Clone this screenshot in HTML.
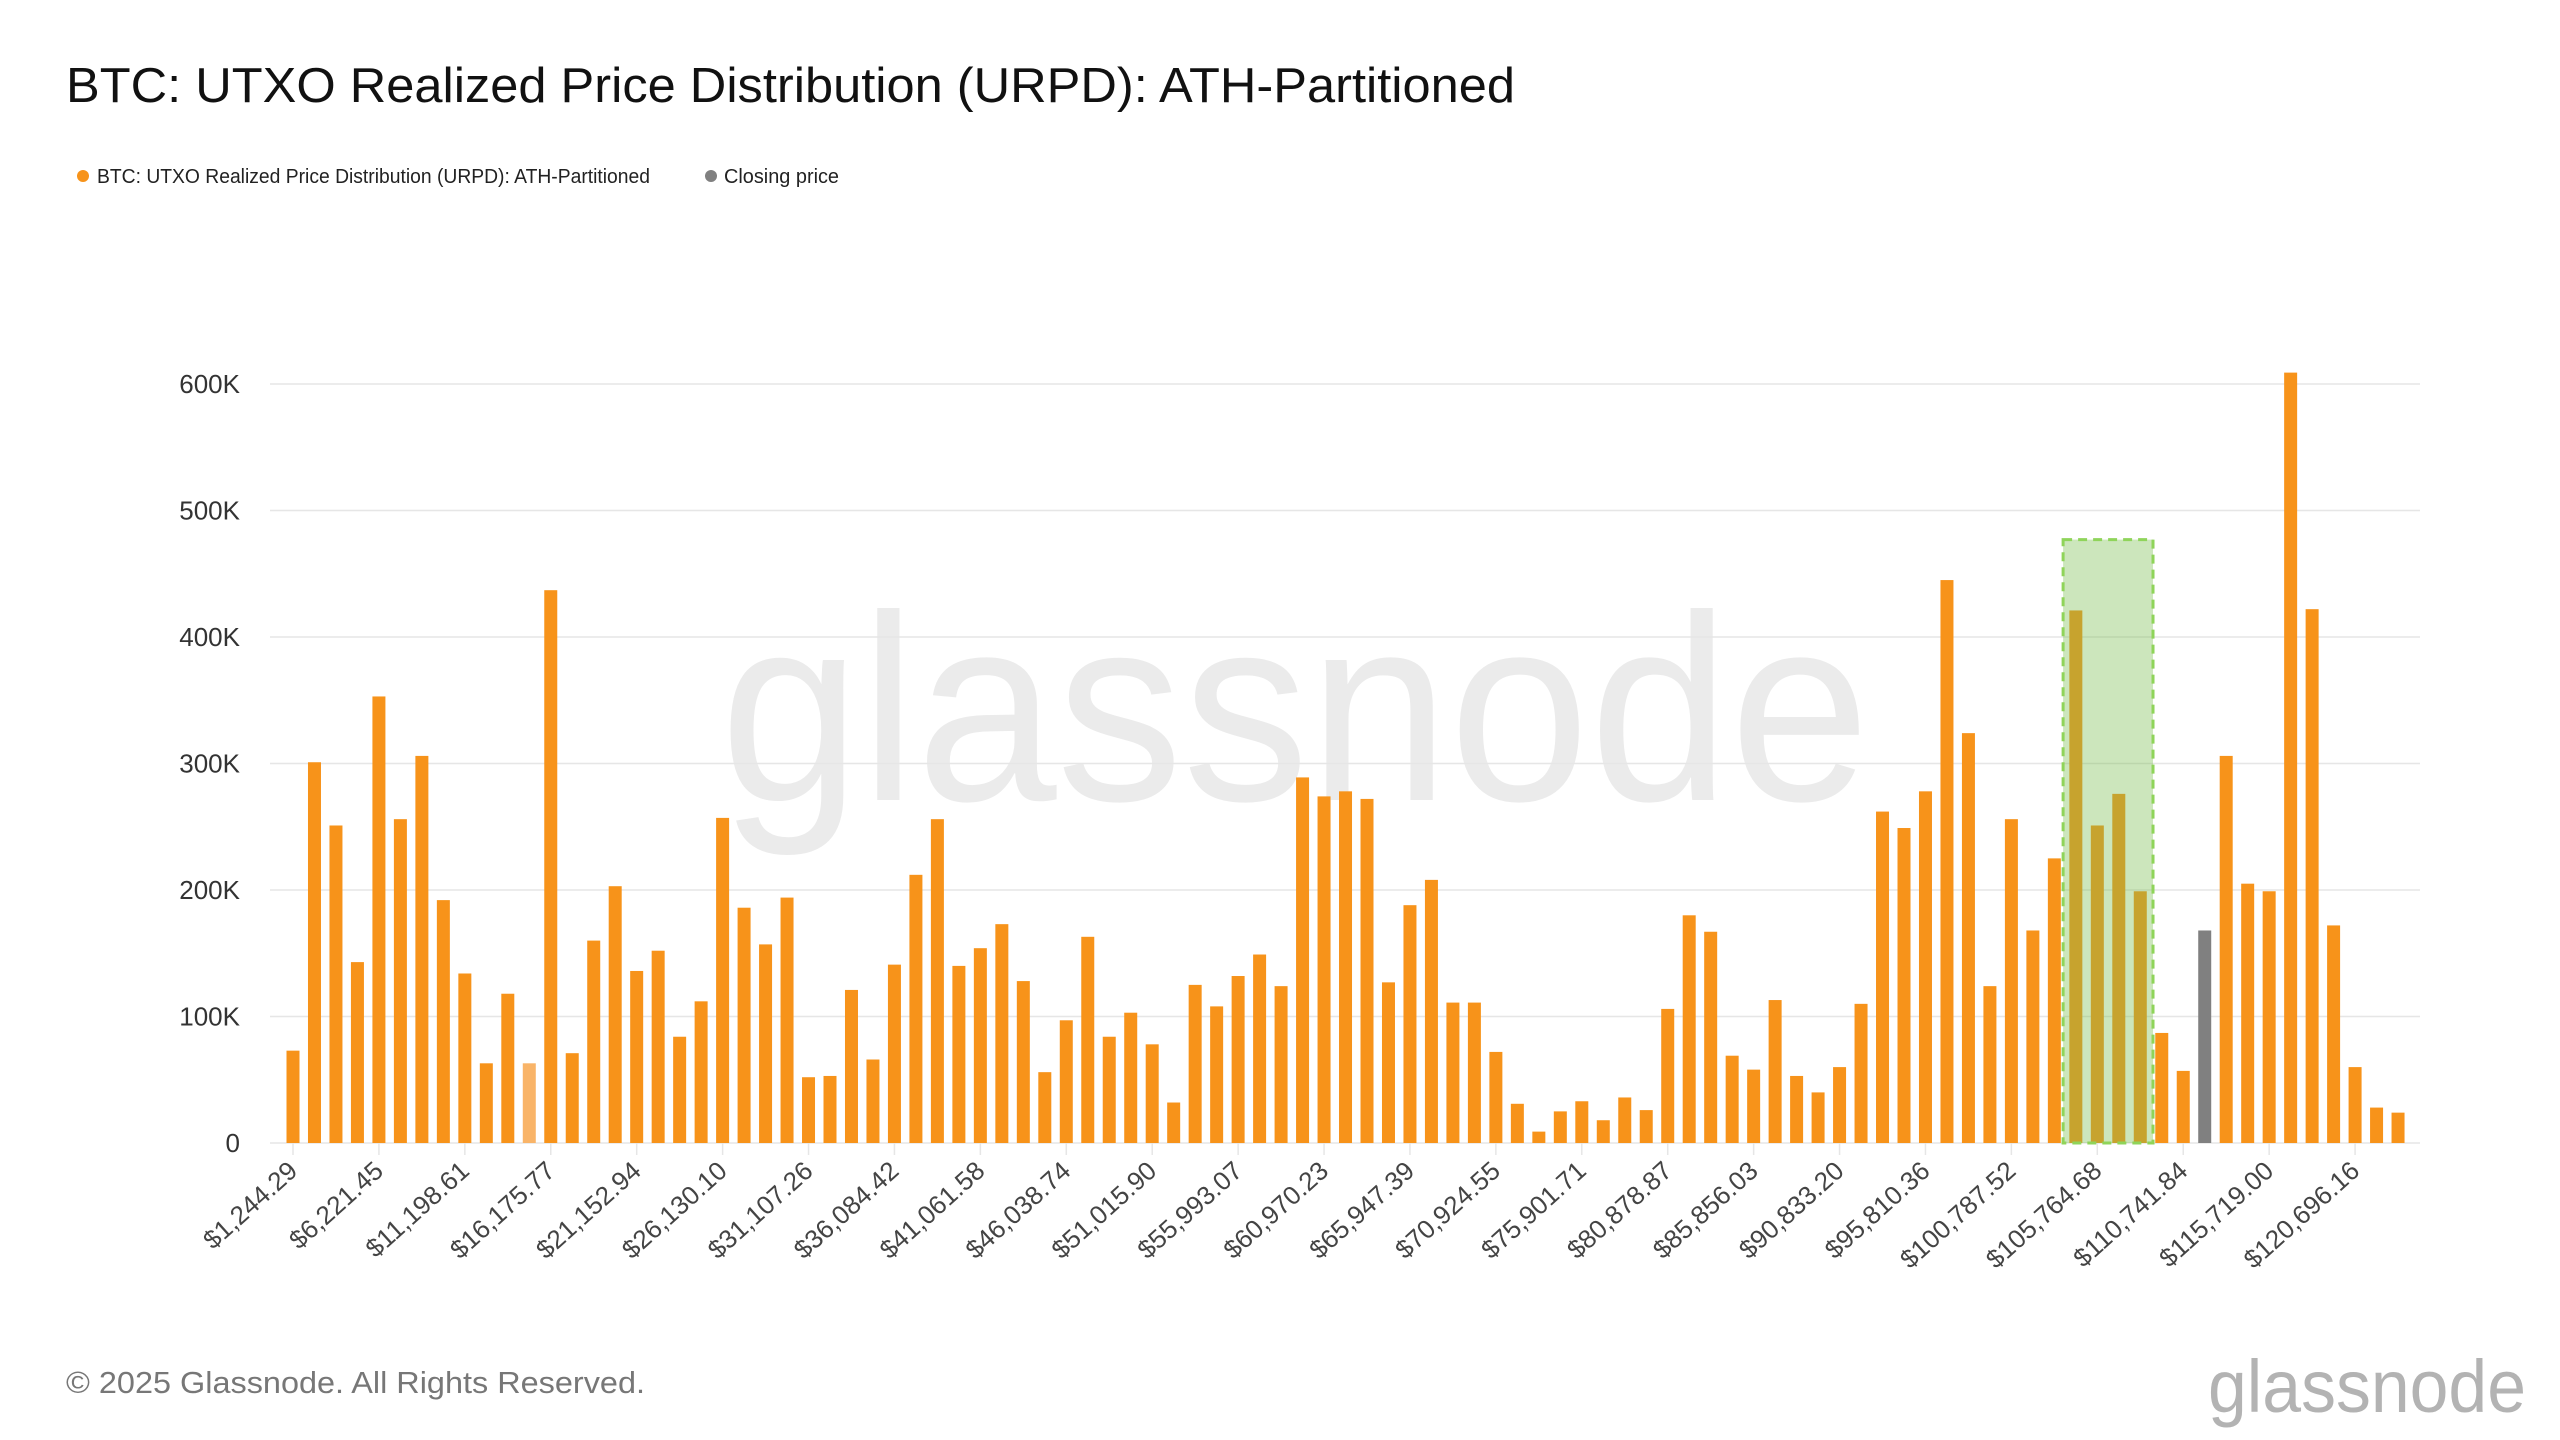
<!DOCTYPE html>
<html><head><meta charset="utf-8"><title>BTC URPD</title>
<style>
html,body{margin:0;padding:0;background:#fff;}
svg{display:block;font-family:"Liberation Sans",Arial,sans-serif;}
</style></head>
<body>
<svg id="chart" width="2560" height="1440" viewBox="0 0 2560 1440" xmlns="http://www.w3.org/2000/svg">
  <rect x="0" y="0" width="2560" height="1440" fill="#ffffff"/>
  <text x="66" y="102" font-size="49" fill="#111" textLength="1449" lengthAdjust="spacingAndGlyphs">BTC: UTXO Realized Price Distribution (URPD): ATH-Partitioned</text>
  <g>
    <g>
      <circle cx="83" cy="176" r="6" fill="#f7931a"/>
      <text x="97" y="183" font-size="20" fill="#222" textLength="553" lengthAdjust="spacingAndGlyphs">BTC: UTXO Realized Price Distribution (URPD): ATH-Partitioned</text>
    </g>
    <g>
      <circle cx="711" cy="176" r="6" fill="#808080"/>
      <text x="724" y="183" font-size="20" fill="#222" textLength="115" lengthAdjust="spacingAndGlyphs">Closing price</text>
    </g>
  </g>
  <text x="1295" y="800" font-size="265" fill="#ebebeb" text-anchor="middle" textLength="1150" lengthAdjust="spacingAndGlyphs">glassnode</text>
  <g id="grid"></g>
  <g id="yaxis"></g>
  <g id="bars"></g>
  <g id="xaxis"></g>
  <text x="66" y="1393" font-size="31" fill="#777" textLength="579" lengthAdjust="spacingAndGlyphs">© 2025 Glassnode. All Rights Reserved.</text>
  <text x="2208" y="1412" font-size="74" fill="#b3b3b3" textLength="318" lengthAdjust="spacingAndGlyphs">glassnode</text>
</svg>
<script>
const values = [73,301,251,143,353,256,306,192,134,63,118,63,437,71,160,203,136,152,84,112,257,186,157,194,52,53,121,66,141,212,256,140,154,173,128,56,97,163,84,103,78,32,125,108,132,149,124,289,274,278,272,127,188,208,111,111,72,31,9,25,33,18,36,26,106,180,167,69,58,113,53,40,60,110,262,249,278,445,324,124,256,168,225,421,251,276,199,87,57,168,306,205,199,609,422,172,60,28,24];
const tickLabels = ["$1,244.29","$6,221.45","$11,198.61","$16,175.77","$21,152.94","$26,130.10","$31,107.26","$36,084.42","$41,061.58","$46,038.74","$51,015.90","$55,993.07","$60,970.23","$65,947.39","$70,924.55","$75,901.71","$80,878.87","$85,856.03","$90,833.20","$95,810.36","$100,787.52","$105,764.68","$110,741.84","$115,719.00","$120,696.16"];
const yTicks = [0,100,200,300,400,500,600];
const yTickLabels = ["0","100K","200K","300K","400K","500K","600K"];
const closingIndex = [89];
const fadedIndex = [11];
const highlightRange = [83,86];
const highlightTop = [477];

const NS = "http://www.w3.org/2000/svg";
const X0 = 293, STEP = 21.48, BW = 13, Y0 = 1143, YPX = 759/600;
function xc(i){ return X0 + i*STEP; }
function y(v){ return Y0 - v*YPX; }
function mk(tag, attrs, parent){ const e=document.createElementNS(NS,tag); for(const k in attrs) e.setAttribute(k,attrs[k]); parent.appendChild(e); return e; }

const grid=document.getElementById('grid'), ya=document.getElementById('yaxis'), bars=document.getElementById('bars'), xa=document.getElementById('xaxis');
yTicks.forEach((t,k)=>{
  const l=mk('line',{x1:270,x2:2420,y1:y(t),y2:y(t),stroke:'#e6e6e6','stroke-width':1.6},grid);
  
  
  const tx=mk('text',{x:240,y:y(t)+9,'font-size':26,fill:'#333','text-anchor':'end'},ya);
  tx.textContent=yTickLabels[k];
  
  
});
values.forEach((v,i)=>{
  let fill='#f7931a';
  if(closingIndex.includes(i)) fill='#808080';
  else if(fadedIndex.includes(i)) fill='#f9b468';
  const r=mk('rect',{x:xc(i)-BW/2,y:y(v),width:BW,height:Y0-y(v),fill:fill},bars);
  
  
});
const hx1=xc(highlightRange[0])-STEP/2-2, hx2=xc(highlightRange[1])+STEP/2+2;
const hTop=y(highlightTop[0]);
const hb=mk('rect',{x:hx1,y:hTop,width:hx2-hx1,height:Y0-hTop,fill:'rgba(120,190,80,0.38)',stroke:'#8fd45a','stroke-width':3,'stroke-dasharray':'9,6'},bars);


tickLabels.forEach((lab,k)=>{
  const i=k*4, px=xc(i);
  const tl=mk('line',{x1:px,x2:px,y1:Y0,y2:Y0+12,stroke:'#e6e6e6','stroke-width':1.5},xa);
  
  
  const t=mk('text',{x:px+6,y:Y0+30,'font-size':26,fill:'#444','text-anchor':'end',transform:'rotate(-42 '+(px+6)+' '+(Y0+30)+')'},xa);
  t.textContent=lab;
  
  
});
</script>
</body></html>
